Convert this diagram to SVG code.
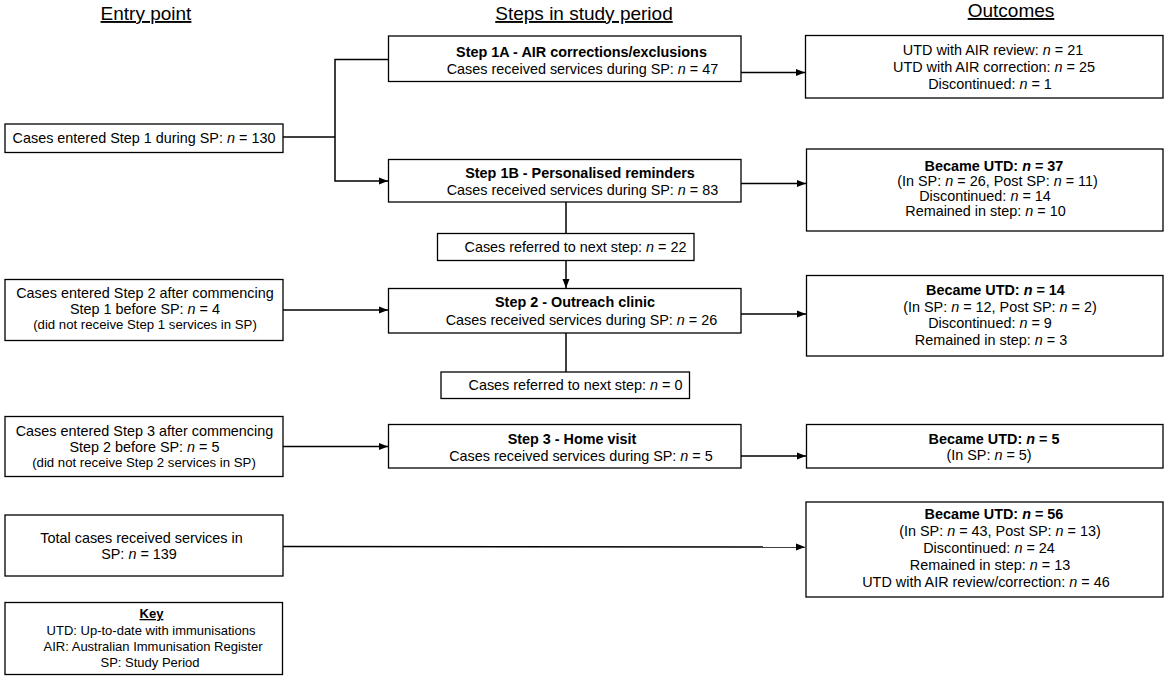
<svg xmlns="http://www.w3.org/2000/svg" width="1169" height="679" viewBox="0 0 1169 679">
<defs>
<marker id="arr" markerWidth="10" markerHeight="8" refX="9" refY="4" orient="auto" markerUnits="userSpaceOnUse">
<path d="M0,0.5 L9,4 L0,7.5 Z" fill="#000"/>
</marker>
<style>
text{font-family:"Liberation Sans",Arial,sans-serif;font-size:14.4px;fill:#000;text-anchor:middle}
.h{font-size:19px;text-decoration:underline}
.b{font-weight:bold}
.s{font-size:13.2px}
.k{font-size:13px}
.box{fill:#fff;stroke:#000;stroke-width:1.3}
.ln{fill:none;stroke:#000;stroke-width:1.5}
.u{text-decoration:underline}
</style>
</defs>
<rect width="1169" height="679" fill="#fff"/>
<g id="headers">
<text class="h" x="146" y="20">Entry point</text>
<text class="h" x="584" y="20">Steps in study period</text>
<text class="h" x="1011" y="17">Outcomes</text>
</g>
<g id="connectors">
<polyline class="ln" points="283,137 335,137"/>
<polyline class="ln" points="388,59.5 335,59.5 335,181 388,181" marker-start="url(#arr)" marker-end="url(#arr)"/>
<line class="ln" x1="741" y1="72.5" x2="805" y2="72.5" marker-end="url(#arr)"/>
<line class="ln" x1="741" y1="183.5" x2="806" y2="183.5" marker-end="url(#arr)"/>
<line class="ln" x1="566" y1="202" x2="566" y2="233"/>
<line class="ln" x1="566" y1="261" x2="566" y2="288" marker-end="url(#arr)"/>
<line class="ln" x1="283" y1="310" x2="388" y2="310" marker-end="url(#arr)"/>
<line class="ln" x1="741" y1="314" x2="806" y2="314" marker-end="url(#arr)"/>
<line class="ln" x1="566" y1="333" x2="566" y2="372"/>
<line class="ln" x1="283" y1="446.5" x2="388" y2="446.5" marker-end="url(#arr)"/>
<line class="ln" x1="741" y1="456" x2="806" y2="456" marker-end="url(#arr)"/>
<line class="ln" x1="283" y1="546.5" x2="805" y2="547" marker-end="url(#arr)"/>
</g>
<g id="entry1">
<rect class="box" x="5" y="124" width="278" height="28.5"/>
<text x="144" y="143">Cases entered Step 1 during SP: <tspan font-style="italic">n</tspan> = 130</text>
</g>
<g id="step1a">
<rect class="box" x="388.5" y="36" width="352.5" height="45.5"/>
<text class="b" x="581.5" y="57">Step 1A - AIR corrections/exclusions</text>
<text x="582.5" y="73.5">Cases received services during SP: <tspan font-style="italic">n</tspan> = 47</text>
</g>
<g id="out1a">
<rect class="box" x="805.5" y="35.5" width="357.5" height="62.5"/>
<text x="993" y="54.5">UTD with AIR review: <tspan font-style="italic">n</tspan> = 21</text>
<text x="994" y="71.5">UTD with AIR correction: <tspan font-style="italic">n</tspan> = 25</text>
<text x="990" y="88.5">Discontinued: <tspan font-style="italic">n</tspan> = 1</text>
</g>
<g id="step1b">
<rect class="box" x="388.5" y="159.5" width="352.5" height="42.5"/>
<text class="b" x="580" y="178">Step 1B - Personalised reminders</text>
<text x="582.5" y="194.5">Cases received services during SP: <tspan font-style="italic">n</tspan> = 83</text>
</g>
<g id="out1b">
<rect class="box" x="806.5" y="149" width="356.5" height="82"/>
<text class="b" x="994" y="170.5">Became UTD: <tspan font-style="italic">n</tspan> = 37</text>
<text x="997.5" y="186">(In SP: <tspan font-style="italic">n</tspan> = 26, Post SP: <tspan font-style="italic">n</tspan> = 11)</text>
<text x="985" y="201">Discontinued: <tspan font-style="italic">n</tspan> = 14</text>
<text x="985.5" y="216">Remained in step: <tspan font-style="italic">n</tspan> = 10</text>
</g>
<g id="ref1">
<rect class="box" x="437.5" y="233.5" width="256.5" height="27"/>
<text x="575.5" y="252">Cases referred to next step: <tspan font-style="italic">n</tspan> = 22</text>
</g>
<g id="entry2">
<rect class="box" x="5" y="279.5" width="278" height="61"/>
<text x="145" y="297.5">Cases entered Step 2 after commencing</text>
<text x="145" y="314">Step 1 before SP: <tspan font-style="italic">n</tspan> = 4</text>
<text class="s" x="145" y="329">(did not receive Step 1 services in SP)</text>
</g>
<g id="step2">
<rect class="box" x="388.5" y="288.5" width="352.5" height="44.5"/>
<text class="b" x="575" y="307">Step 2 - Outreach clinic</text>
<text x="581.5" y="324.5">Cases received services during SP: <tspan font-style="italic">n</tspan> = 26</text>
</g>
<g id="out2">
<rect class="box" x="806.5" y="275.5" width="356.5" height="80.5"/>
<text class="b" x="995.5" y="295">Became UTD: <tspan font-style="italic">n</tspan> = 14</text>
<text x="1000" y="311.5">(In SP: <tspan font-style="italic">n</tspan> = 12, Post SP: <tspan font-style="italic">n</tspan> = 2)</text>
<text x="990" y="328">Discontinued: <tspan font-style="italic">n</tspan> = 9</text>
<text x="991" y="344.5">Remained in step: <tspan font-style="italic">n</tspan> = 3</text>
</g>
<g id="ref2">
<rect class="box" x="441" y="372" width="248.5" height="26.5"/>
<text x="575.5" y="390">Cases referred to next step: <tspan font-style="italic">n</tspan> = 0</text>
</g>
<g id="entry3">
<rect class="box" x="5" y="416.5" width="278" height="60"/>
<text x="144.5" y="436">Cases entered Step 3 after commencing</text>
<text x="144.5" y="451.5">Step 2 before SP: <tspan font-style="italic">n</tspan> = 5</text>
<text class="s" x="144" y="466.5">(did not receive Step 2 services in SP)</text>
</g>
<g id="step3">
<rect class="box" x="388.5" y="424.5" width="352.5" height="43.5"/>
<text class="b" x="572" y="443.5">Step 3 - Home visit</text>
<text x="581" y="460.5">Cases received services during SP: <tspan font-style="italic">n</tspan> = 5</text>
</g>
<g id="out3">
<rect class="box" x="806.5" y="424.5" width="356.5" height="43.5"/>
<text class="b" x="994" y="444">Became UTD: <tspan font-style="italic">n</tspan> = 5</text>
<text x="989" y="460">(In SP: <tspan font-style="italic">n</tspan> = 5)</text>
</g>
<g id="total">
<rect class="box" x="5" y="515" width="278" height="61"/>
<text x="141.5" y="543">Total cases received services in</text>
<text x="139" y="559">SP: <tspan font-style="italic">n</tspan> = 139</text>
</g>
<g id="outtotal">
<rect class="box" x="806" y="502" width="357" height="95"/>
<text class="b" x="994" y="519">Became UTD: <tspan font-style="italic">n</tspan> = 56</text>
<text x="1000" y="536">(In SP: <tspan font-style="italic">n</tspan> = 43, Post SP: <tspan font-style="italic">n</tspan> = 13)</text>
<text x="989" y="553">Discontinued: <tspan font-style="italic">n</tspan> = 24</text>
<text x="990" y="570">Remained in step: <tspan font-style="italic">n</tspan> = 13</text>
<text x="986" y="587">UTD with AIR review/correction: <tspan font-style="italic">n</tspan> = 46</text>
</g>
<g id="key">
<rect class="box" x="5" y="602.5" width="277.5" height="72"/>
<text class="k b u" x="151.5" y="618">Key</text>
<text class="k" x="151" y="635">UTD: Up-to-date with immunisations</text>
<text class="k" x="153" y="651">AIR: Australian Immunisation Register</text>
<text class="k" x="150" y="667">SP: Study Period</text>
</g>
</svg>
